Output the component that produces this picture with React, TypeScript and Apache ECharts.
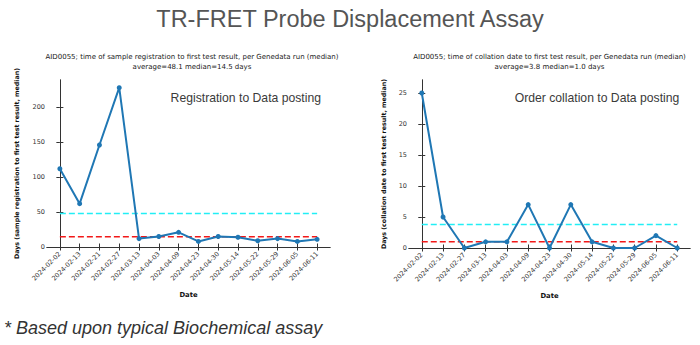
import React, { useEffect, useRef } from "react";
import * as echarts from "echarts";

const regDates = ["2024-02-02", "2024-02-13", "2024-02-21", "2024-02-27", "2024-03-13", "2024-04-03", "2024-04-09", "2024-04-23", "2024-04-30", "2024-05-14", "2024-05-22", "2024-05-29", "2024-06-05", "2024-06-11"];
const regDays = [112, 62, 146, 228, 12, 15, 21, 8, 15, 14, 9, 12, 8, 11];
const regAverage = 48.1;
const regMedian = 14.5;
const regTicks = [0, 50, 100, 150, 200];

const colDates = ["2024-02-02", "2024-02-13", "2024-02-27", "2024-03-13", "2024-04-03", "2024-04-09", "2024-04-23", "2024-04-30", "2024-05-14", "2024-05-22", "2024-05-29", "2024-06-05", "2024-06-11"];
const colDays = [25, 5, 0, 1, 1, 7, 0, 7, 1, 0, 0, 2, 0];
const colAverage = 3.8;
const colMedian = 1.0;
const colTicks = [0, 5, 10, 15, 20, 25];

const mainTitle = "TR-FRET Probe Displacement Assay";
const regTitle = "AID0055; time of sample registration to first test result, per Genedata run (median)";
const colTitle = "AID0055; time of collation date to first test result, per Genedata run (median)";
const regYName = "Days (sample registration to first test result, median)";
const colYName = "Days (collation date to first test result, median)";
const regNote = "Registration to Data posting";
const colNote = "Order collation to Data posting";
const footnote = "* Based upon typical Biochemical assay";

const MPL = "DejaVu Sans";
const AXC = "#333";
const BLUE = "#1f77b4";
const CYAN = "#22eef5";
const RED = "#f21818";

export default function App() {
  const ref = useRef<HTMLDivElement>(null);
  useEffect(() => {
    if (!ref.current) return;
    const chart = echarts.init(ref.current, undefined, { renderer: "svg" });

    const panels = [
      { dates: regDates, days: regDays, avg: regAverage, med: regMedian, ticks: regTicks, ymax: 239, yName: regYName, nameGap: 28 },
      { dates: colDates, days: colDays, avg: colAverage, med: colMedian, ticks: colTicks, ymax: 27.1, yName: colYName, nameGap: 23 },
    ];

    const xAxes: any[] = [];
    const yAxes: any[] = [];
    const series: any[] = [];
    panels.forEach((p, g) => {
      const n = p.dates.length;
      const pad = (n - 1) * 0.05;
      const idx = p.dates.map((_, i) => i);
      const lineStyle = { color: AXC, width: 1 };
      xAxes.push({
        type: "value", gridIndex: g, min: -pad, max: n - 1 + pad, position: "bottom",
        splitLine: { show: false },
        axisLine: { show: true, lineStyle },
        axisTick: { show: true, length: 3.5, lineStyle, customValues: idx },
        axisLabel: {
          customValues: idx, rotate: 45, margin: 6, fontFamily: MPL, fontSize: 6.5, color: AXC,
          formatter: (v: number) => p.dates[Math.round(v)] ?? "",
        },
        name: "Date", nameLocation: "middle", nameGap: 44,
        nameTextStyle: { fontFamily: MPL, fontSize: 6.8, fontWeight: "bold", color: "#111" },
      });
      xAxes.push({
        type: "value", gridIndex: g, min: -pad, max: n - 1 + pad, position: "top",
        splitLine: { show: false },
        axisLine: { show: true, lineStyle },
        axisTick: { show: true, length: 3.5, lineStyle, customValues: idx },
        axisLabel: { show: false },
      });
      yAxes.push({
        type: "value", gridIndex: g, min: 0, max: p.ymax, position: "left",
        splitLine: { show: false },
        axisLine: { show: true, lineStyle },
        axisTick: { show: true, length: 3.5, lineStyle, customValues: p.ticks },
        axisLabel: { customValues: p.ticks, margin: 2, fontFamily: MPL, fontSize: 6.5, color: AXC },
        name: p.yName, nameLocation: "middle", nameGap: p.nameGap,
        nameTextStyle: { fontFamily: MPL, fontSize: 6.3, fontWeight: "bold", color: "#111" },
      });
      yAxes.push({
        type: "value", gridIndex: g, min: 0, max: p.ymax, position: "right",
        splitLine: { show: false },
        axisLine: { show: true, lineStyle },
        axisTick: { show: true, length: 3.5, lineStyle, customValues: p.ticks },
        axisLabel: { show: false },
      });
      const xi = g * 2;
      const yi = g * 2;
      series.push({
        type: "line", xAxisIndex: xi, yAxisIndex: yi, silent: true,
        data: [[0, p.avg], [n - 1, p.avg]], symbol: "none",
        lineStyle: { color: CYAN, width: 1.5, type: [6, 3] },
      });
      series.push({
        type: "line", xAxisIndex: xi, yAxisIndex: yi, silent: true,
        data: [[0, p.med], [n - 1, p.med]], symbol: "none",
        lineStyle: { color: RED, width: 1.5, type: [6, 3] },
      });
      series.push({
        type: "line", xAxisIndex: xi, yAxisIndex: yi,
        data: p.days.map((v, i) => [i, v]),
        symbol: "circle", symbolSize: 5, showSymbol: true,
        itemStyle: { color: BLUE },
        lineStyle: { color: BLUE, width: 2 },
      });
    });

    const sub = (text: string, x: number, y: number) => ({
      type: "text", x, y,
      style: { text, fontFamily: MPL, fontSize: 7, fill: "#1a1a1a", align: "center", verticalAlign: "middle" },
    });
    const note = (text: string, x: number, y: number) => ({
      type: "text", x, y,
      style: { text, fontFamily: "Liberation Sans", fontSize: 12.2, fill: "#3a3a3a", align: "right", verticalAlign: "middle" },
    });

    chart.setOption({
      animation: false,
      backgroundColor: "#fff",
      grid: [
        { left: 47, top: 80, width: 283, height: 167 },
        { left: 409, top: 80, width: 281, height: 168 },
      ],
      xAxis: xAxes,
      yAxis: yAxes,
      series,
      graphic: [
        {
          type: "text", x: 350, y: 19,
          style: { text: mainTitle, fontFamily: "Liberation Sans", fontSize: 23.5, fill: "#555", align: "center", verticalAlign: "middle" },
        },
        sub(regTitle, 192, 56.5),
        sub(`average=${regAverage.toFixed(1)} median=${regMedian.toFixed(1)} days`, 192, 66.5),
        sub(colTitle, 549.5, 56.5),
        sub(`average=${colAverage.toFixed(1)} median=${colMedian.toFixed(1)} days`, 549.5, 66.5),
        note(regNote, 321, 97.7),
        note(colNote, 679.3, 97.7),
        {
          type: "text", x: 4, y: 328,
          style: { text: footnote, fontFamily: "Liberation Sans", fontSize: 18, fontStyle: "italic", fill: "#333", align: "left", verticalAlign: "middle" },
        },
      ],
    });
    return () => chart.dispose();
  }, []);
  return <div ref={ref} style={{ position: "fixed", left: 0, top: 0, width: 700, height: 345 }} />;
}
